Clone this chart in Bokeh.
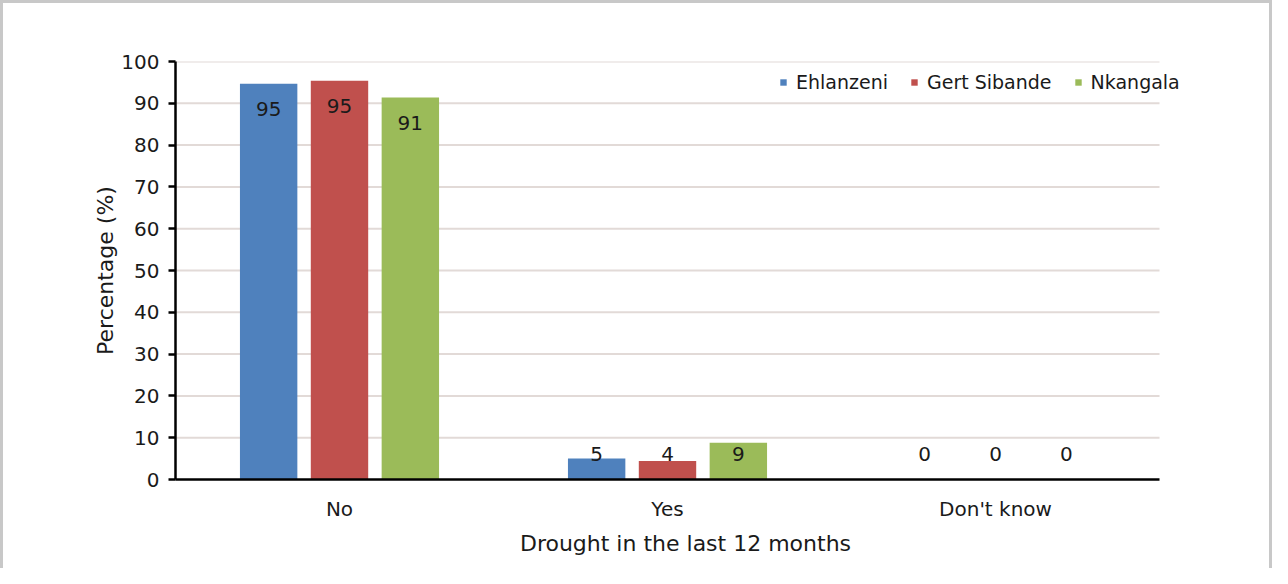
from bokeh.plotting import figure
from bokeh.models import ColumnDataSource, Legend, LegendItem, Range1d, FixedTicker
from bokeh.core.properties import value
from bokeh.embed import file_html
from bokeh.resources import INLINE

categories = ["No", "Yes", "Don't know"]
series = ["Ehlanzeni", "Gert Sibande", "Nkangala"]
ehlanzeni = [94.7, 5.0, 0.0]
gert_sibande = [95.4, 4.4, 0.0]
nkangala = [91.4, 8.8, 0.0]
colors = ["#4f81bd", "#c0504d", "#9bbb59"]
y_ticks = [0, 10, 20, 30, 40, 50, 60, 70, 80, 90, 100]

FONT = "DejaVu Sans"
TXT = "#1a1a1a"

n = len(categories)
centers = [i + 0.5 for i in range(n)]
offsets = [-0.216, 0.0, 0.216]

src = ColumnDataSource(dict(xc=centers))
for i, vals in enumerate([ehlanzeni, gert_sibande, nkangala]):
    src.data[f"x{i}"] = [c + offsets[i] for c in centers]
    src.data[f"s{i}"] = vals
    src.data[f"l{i}"] = [str(int(round(v))) for v in vals]
    src.data[f"y{i}"] = [max(v, 12) - 6 for v in vals]

# frame extends a little past the last category so the legend fits
x_end = n * 1020 / 984
p = figure(x_range=Range1d(0, x_end), y_range=Range1d(0, 100),
           width=1272, height=568, output_backend="svg", toolbar_location=None,
           min_border_left=175, min_border_right=77, min_border_top=61, min_border_bottom=89)
p.border_fill_alpha = 0
p.styles = {"box-shadow": "inset 3px 3px 0 #c8c8c8, inset -3px 0 0 #c8c8c8"}
p.outline_line_color = None

# horizontal gridlines limited to the category area
p.xgrid.grid_line_color = None
p.ygrid.grid_line_color = None
grid_src = ColumnDataSource(dict(y=y_ticks[1:], x0=[0] * (len(y_ticks) - 1), x1=[n] * (len(y_ticks) - 1)))
p.segment(x0="x0", x1="x1", y0="y", y1="y", source=grid_src, line_color="#e2dad7", line_width=2)

items = []
for i, name in enumerate(series):
    r = p.vbar(x=f"x{i}", top=f"s{i}", width=0.175, source=src,
               fill_color=colors[i], line_color=None)
    items.append(LegendItem(label=name, renderers=[r]))
    p.text(x=f"x{i}", y=f"y{i}", text=f"l{i}", source=src,
           text_align="center", text_baseline="middle", text_font=value(FONT),
           text_font_size="20px", text_color=TXT)

legend = Legend(items=items, orientation="horizontal", location=(604, 386),
                label_text_font=FONT, label_text_font_size="19px", label_text_color=TXT,
                glyph_width=8, glyph_height=8, label_standoff=9, spacing=22,
                padding=0, margin=0, border_line_color=None, background_fill_alpha=0)
p.add_layout(legend, "center")

p.yaxis.ticker = y_ticks
p.xaxis.ticker = FixedTicker(ticks=centers)
p.xaxis.major_label_overrides = {c: lab for c, lab in zip(centers, categories)}
p.xaxis.bounds = (0, n)

for ax in (p.xaxis, p.yaxis):
    ax.axis_line_color = "black"
    ax.axis_line_width = 2.5
    ax.major_label_text_font = FONT
    ax.major_label_text_font_size = "20px"
    ax.major_label_text_color = TXT
    ax.axis_label_text_font = FONT
    ax.axis_label_text_font_size = "22px"
    ax.axis_label_text_font_style = "normal"
    ax.axis_label_text_color = TXT
    ax.minor_tick_line_color = None

p.yaxis.axis_label = "Percentage (%)"
p.yaxis.major_tick_line_color = "black"
p.yaxis.major_tick_line_width = 2.5
p.yaxis.major_tick_out = 7
p.yaxis.major_tick_in = 0
p.yaxis.major_label_standoff = 9
p.yaxis.axis_label_standoff = 0

p.xaxis.axis_label = "Drought in the last 12 months"
p.xaxis.major_tick_line_color = None
p.xaxis.major_label_standoff = 11
p.xaxis.axis_label_standoff = 7

open("out.html", "w").write(file_html(p, INLINE))
